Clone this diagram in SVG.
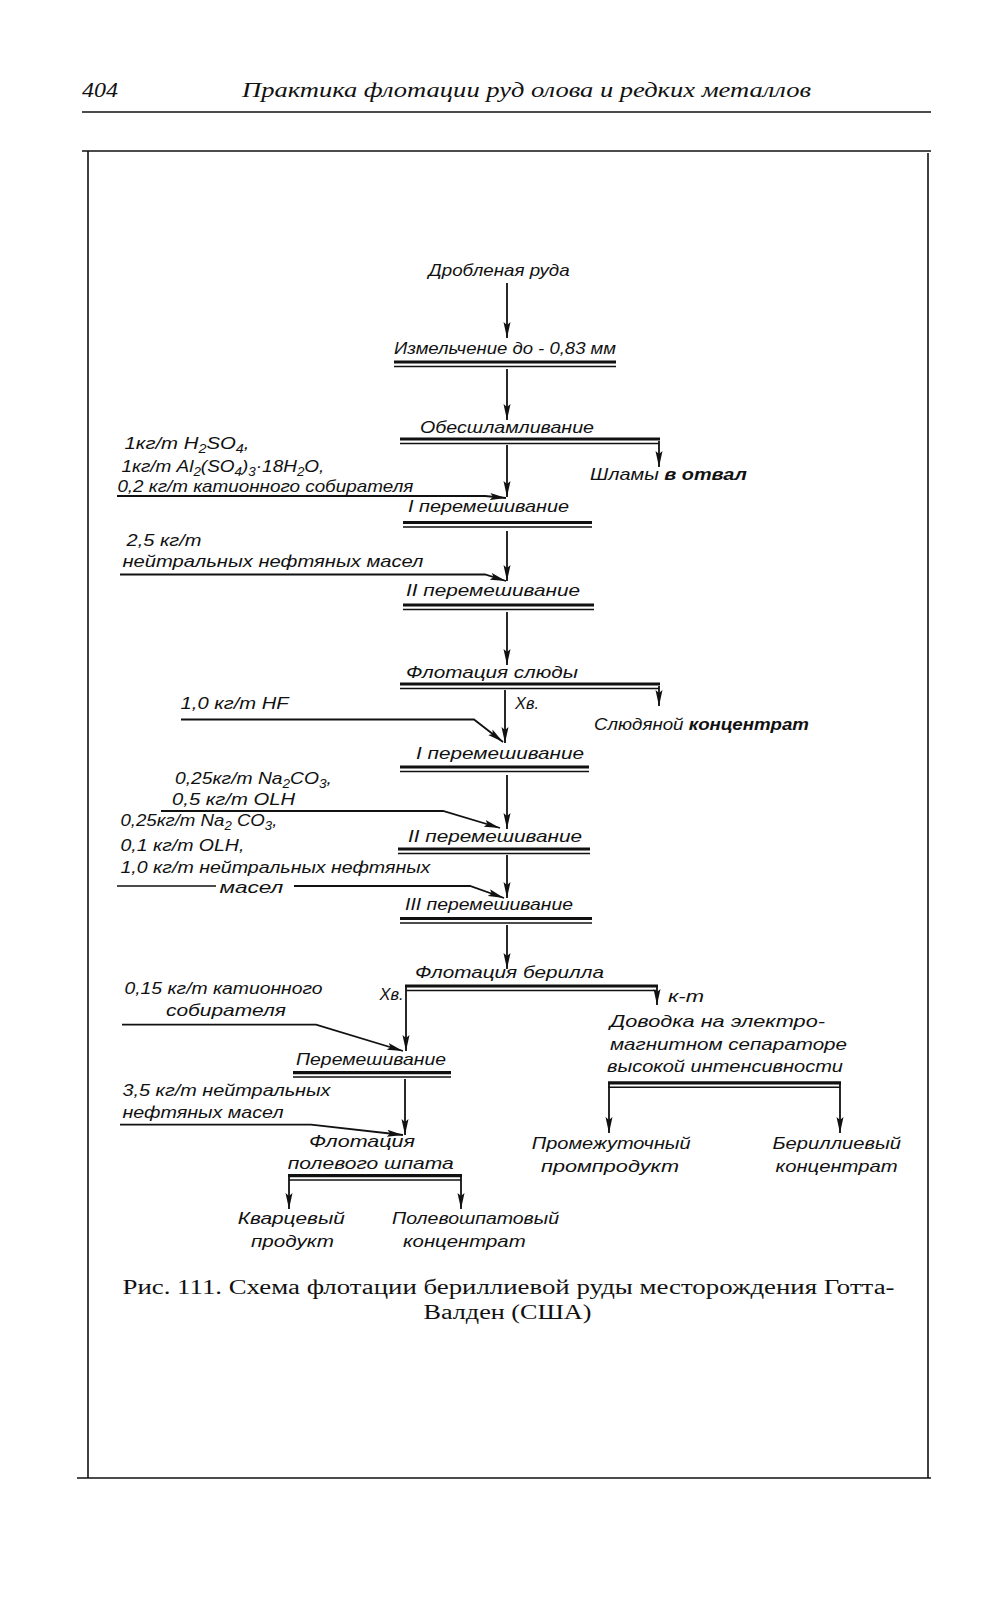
<svg xmlns="http://www.w3.org/2000/svg" width="994" height="1600" viewBox="0 0 994 1600">
<defs>
<marker id="ah" markerUnits="userSpaceOnUse" markerWidth="16" markerHeight="8" refX="16" refY="4" orient="auto"><path d="M0,0.5 L16,4 L0,7.5 L3,4 z" fill="#111"/></marker>
<style>
.t{font-family:"Liberation Sans","DejaVu Sans",sans-serif;font-style:italic;font-size:17px;fill:#111}
.s{font-size:12px}
.hd{font-family:"Liberation Serif","DejaVu Serif",serif;font-style:italic;font-size:22px;fill:#111}
.cap{font-family:"Liberation Serif","DejaVu Serif",serif;font-size:20px;fill:#111}
.fr{stroke:#111;stroke-width:1.6;fill:none}
.ln{stroke:#111;stroke-width:1.6;fill:none}
.ar{stroke:#111;stroke-width:1.8;fill:none;marker-end:url(#ah)}
.tk{stroke:#111;stroke-width:3.2}
.tn{stroke:#111;stroke-width:1.5}
</style>
</defs>
<rect width="994" height="1600" fill="#fff"/>

<g id="page">
<text class="hd" x="82" y="97" font-style="normal" textLength="36" lengthAdjust="spacingAndGlyphs">404</text>
<text class="hd" x="242" y="97" textLength="569" lengthAdjust="spacingAndGlyphs">Практика флотации руд олова и редких металлов</text>
<line class="fr" x1="82" y1="112" x2="931" y2="112"/>
<line class="fr" x1="82" y1="151" x2="931" y2="151"/>
<line class="fr" x1="88" y1="151" x2="88" y2="1478"/>
<line class="fr" x1="928" y1="153" x2="928" y2="1478"/>
<line class="fr" x1="77" y1="1478" x2="931" y2="1478"/>
</g>

<g id="connectors">
<line class="ar" x1="507" y1="283" x2="507" y2="338"/>
<line class="ar" x1="507" y1="369" x2="507" y2="420"/>
<polyline class="ar" points="659,441 659,467"/>
<line class="ar" x1="507" y1="445" x2="507" y2="497"/>
<polyline class="ar" points="117,496 485,496 506,498"/>
<line class="ar" x1="507" y1="531" x2="507" y2="581"/>
<polyline class="ar" points="120,574.5 485,574.5 506,581"/>
<line class="ar" x1="507" y1="612" x2="507" y2="665"/>
<polyline class="ar" points="659,686 659,706"/>
<line class="ar" x1="505" y1="690" x2="505" y2="743"/>
<polyline class="ar" points="181,719.5 474,719.5 503,742"/>
<line class="ar" x1="507" y1="775" x2="507" y2="829"/>
<polyline class="ar" points="161,811 443,811 500,828"/>
<line class="ar" x1="507" y1="855" x2="507" y2="898"/>
<polyline class="ln" points="117,886 216,886"/>
<polyline class="ar" points="294,886 470,886 504,898"/>
<line class="ar" x1="507" y1="925" x2="507" y2="969"/>
<polyline class="ar" points="406,987 406,1051"/>
<polyline class="ar" points="657,987 657,1005"/>
<polyline class="ar" points="122,1024.6 316,1024.6 403,1051"/>
<line class="ar" x1="405" y1="1079" x2="405" y2="1135"/>
<polyline class="ar" points="120,1124.6 311,1124.6 403,1135"/>
<polyline class="ar" points="609,1084 609,1133"/>
<polyline class="ar" points="840,1084 840,1133"/>
<polyline class="ar" points="289,1177 289,1209"/>
<polyline class="ar" points="461,1177 461,1209"/>
</g>

<g id="n-ore"><text class="t" x="428.6" y="275.5" textLength="141" lengthAdjust="spacingAndGlyphs">Дробленая руда</text></g>

<g id="n-grind">
<text class="t" x="394" y="354" textLength="222" lengthAdjust="spacingAndGlyphs">Измельчение  до - 0,83 мм</text>
<line class="tk" x1="394" y1="362" x2="616" y2="362"/><line class="tn" x1="394" y1="366.5" x2="616" y2="366.5"/>
</g>

<g id="n-deslime">
<text class="t" x="420" y="433" textLength="174" lengthAdjust="spacingAndGlyphs">Обесшламливание</text>
<line class="tk" x1="400" y1="439" x2="660" y2="439"/><line class="tn" x1="400" y1="443.5" x2="659" y2="443.5"/>
</g>

<g id="n-slimes"><text class="t" x="590" y="480" textLength="157" lengthAdjust="spacingAndGlyphs">Шламы <tspan font-weight="bold">в отвал</tspan></text></g>

<g id="r-1">
<text class="t" x="124.5" y="449" textLength="125" lengthAdjust="spacingAndGlyphs">1кг/т H<tspan class="s" dy="4">2</tspan><tspan dy="-4">SO</tspan><tspan class="s" dy="4">4</tspan><tspan dy="-4">,</tspan></text>
<text class="t" x="121.4" y="471.5" textLength="203" lengthAdjust="spacingAndGlyphs">1кг/т Al<tspan class="s" dy="4">2</tspan><tspan dy="-4">(SO</tspan><tspan class="s" dy="4">4</tspan><tspan dy="-4">)</tspan><tspan class="s" dy="4">3</tspan><tspan dy="-4">·18H</tspan><tspan class="s" dy="4">2</tspan><tspan dy="-4">O,</tspan></text>
<text class="t" x="117.4" y="492" textLength="296" lengthAdjust="spacingAndGlyphs">0,2 кг/т катионного собирателя</text>
</g>

<g id="n-mix1">
<text class="t" x="408" y="512" textLength="161" lengthAdjust="spacingAndGlyphs">I перемешивание</text>
<line class="tk" x1="403" y1="522.5" x2="592" y2="522.5"/><line class="tn" x1="403" y1="527" x2="592" y2="527"/>
</g>

<g id="r-2">
<text class="t" x="126.5" y="546" textLength="75" lengthAdjust="spacingAndGlyphs">2,5 кг/т</text>
<text class="t" x="122.5" y="567" textLength="301" lengthAdjust="spacingAndGlyphs">нейтральных нефтяных масел</text>
</g>

<g id="n-mix2">
<text class="t" x="406" y="596" textLength="174" lengthAdjust="spacingAndGlyphs">II перемешивание</text>
<line class="tk" x1="403" y1="605" x2="594" y2="605"/><line class="tn" x1="403" y1="609.5" x2="594" y2="609.5"/>
</g>

<g id="n-mica">
<text class="t" x="406" y="677.6" textLength="172" lengthAdjust="spacingAndGlyphs">Флотация слюды</text>
<line class="tk" x1="400" y1="684" x2="660" y2="684"/><line class="tn" x1="400" y1="688.5" x2="659" y2="688.5"/>
<text class="t" x="515" y="709" textLength="24" lengthAdjust="spacingAndGlyphs">Хв.</text>
</g>

<g id="n-mica-conc"><text class="t" x="594" y="730" textLength="215" lengthAdjust="spacingAndGlyphs">Слюдяной <tspan font-weight="bold">концентрат</tspan></text></g>

<g id="r-3"><text class="t" x="180.6" y="709" textLength="108" lengthAdjust="spacingAndGlyphs">1,0 кг/т HF</text></g>

<g id="n-mix3">
<text class="t" x="416" y="759" textLength="168" lengthAdjust="spacingAndGlyphs">I перемешивание</text>
<line class="tk" x1="400" y1="767" x2="589" y2="767"/><line class="tn" x1="400" y1="771.5" x2="589" y2="771.5"/>
</g>

<g id="r-4">
<text class="t" x="175" y="784" textLength="157" lengthAdjust="spacingAndGlyphs">0,25кг/т Na<tspan class="s" dy="4">2</tspan><tspan dy="-4">CO</tspan><tspan class="s" dy="4">3</tspan><tspan dy="-4">,</tspan></text>
<text class="t" x="172" y="805" textLength="123" lengthAdjust="spacingAndGlyphs">0,5 кг/т OLH</text>
</g>

<g id="n-mix4">
<text class="t" x="408" y="842" textLength="174" lengthAdjust="spacingAndGlyphs">II перемешивание</text>
<line class="tk" x1="398" y1="849" x2="590" y2="849"/><line class="tn" x1="398" y1="853.5" x2="590" y2="853.5"/>
</g>

<g id="r-5">
<text class="t" x="120.4" y="826" textLength="157" lengthAdjust="spacingAndGlyphs">0,25кг/т Na<tspan class="s" dy="4">2</tspan><tspan dy="-4"> CO</tspan><tspan class="s" dy="4">3</tspan><tspan dy="-4">,</tspan></text>
<text class="t" x="120.4" y="851" textLength="124" lengthAdjust="spacingAndGlyphs">0,1 кг/т OLH,</text>
<text class="t" x="120.4" y="873" textLength="310" lengthAdjust="spacingAndGlyphs">1,0 кг/т нейтральных нефтяных</text>
<text class="t" x="219.4" y="893" textLength="64" lengthAdjust="spacingAndGlyphs">масел</text>
</g>

<g id="n-mix5">
<text class="t" x="405" y="910" textLength="168" lengthAdjust="spacingAndGlyphs">III перемешивание</text>
<line class="tk" x1="400" y1="918.5" x2="592" y2="918.5"/><line class="tn" x1="400" y1="923" x2="592" y2="923"/>
</g>

<g id="n-beryl">
<text class="t" x="415" y="977.6" textLength="189" lengthAdjust="spacingAndGlyphs">Флотация берилла</text>
<line class="tk" x1="405" y1="986" x2="658" y2="986"/><line class="tn" x1="406" y1="990.5" x2="657" y2="990.5"/>
<text class="t" x="379.6" y="1000" textLength="24" lengthAdjust="spacingAndGlyphs">Хв.</text>
<text class="t" x="668" y="1002" textLength="36" lengthAdjust="spacingAndGlyphs">к-т</text>
</g>

<g id="n-electro">
<text class="t" x="610" y="1026.6" textLength="215" lengthAdjust="spacingAndGlyphs">Доводка на электро-</text>
<text class="t" x="610" y="1050" textLength="237" lengthAdjust="spacingAndGlyphs">магнитном сепараторе</text>
<text class="t" x="607" y="1071.5" textLength="236" lengthAdjust="spacingAndGlyphs">высокой интенсивности</text>
<line class="tk" x1="608" y1="1082.8" x2="841" y2="1082.8"/><line class="tn" x1="608" y1="1087.3" x2="840" y2="1087.3"/>
</g>

<g id="n-middling"><text class="t" x="531.7" y="1149" textLength="159" lengthAdjust="spacingAndGlyphs">Промежуточный</text><text class="t" x="541" y="1171.5" textLength="138" lengthAdjust="spacingAndGlyphs">промпродукт</text></g>

<g id="n-beryl-conc"><text class="t" x="772.5" y="1149" textLength="128.5" lengthAdjust="spacingAndGlyphs">Бериллиевый</text><text class="t" x="775.6" y="1171.5" textLength="122" lengthAdjust="spacingAndGlyphs">концентрат</text></g>

<g id="r-6">
<text class="t" x="124.5" y="994" textLength="198" lengthAdjust="spacingAndGlyphs">0,15 кг/т катионного</text>
<text class="t" x="166" y="1016" textLength="120" lengthAdjust="spacingAndGlyphs">собирателя</text>
</g>

<g id="n-mix6">
<text class="t" x="296" y="1065" textLength="150" lengthAdjust="spacingAndGlyphs">Перемешивание</text>
<line class="tk" x1="293" y1="1072.6" x2="451" y2="1072.6"/><line class="tn" x1="293" y1="1077" x2="451" y2="1077"/>
</g>

<g id="r-7">
<text class="t" x="122.5" y="1096" textLength="208" lengthAdjust="spacingAndGlyphs">3,5 кг/т нейтральных</text>
<text class="t" x="122.5" y="1117.5" textLength="161" lengthAdjust="spacingAndGlyphs">нефтяных масел</text>
</g>

<g id="n-feldspar">
<text class="t" x="309" y="1147" textLength="106" lengthAdjust="spacingAndGlyphs">Флотация</text>
<text class="t" x="287.8" y="1168.5" textLength="166" lengthAdjust="spacingAndGlyphs">полевого шпата</text>
<line class="tk" x1="288" y1="1175.6" x2="462" y2="1175.6"/><line class="tn" x1="289" y1="1180" x2="461" y2="1180"/>
</g>

<g id="n-quartz"><text class="t" x="237.8" y="1223.6" textLength="107" lengthAdjust="spacingAndGlyphs">Кварцевый</text><text class="t" x="251" y="1247" textLength="83" lengthAdjust="spacingAndGlyphs">продукт</text></g>

<g id="n-feld-conc"><text class="t" x="392" y="1223.6" textLength="167" lengthAdjust="spacingAndGlyphs">Полевошпатовый</text><text class="t" x="403" y="1247" textLength="122.6" lengthAdjust="spacingAndGlyphs">концентрат</text></g>

<g id="caption">
<text class="cap" x="122.5" y="1294" textLength="772" lengthAdjust="spacingAndGlyphs">Рис. 111. Схема флотации бериллиевой руды месторождения Готта-</text>
<text class="cap" x="423.5" y="1318.5" textLength="168" lengthAdjust="spacingAndGlyphs">Валден (США)</text>
</g>
</svg>
